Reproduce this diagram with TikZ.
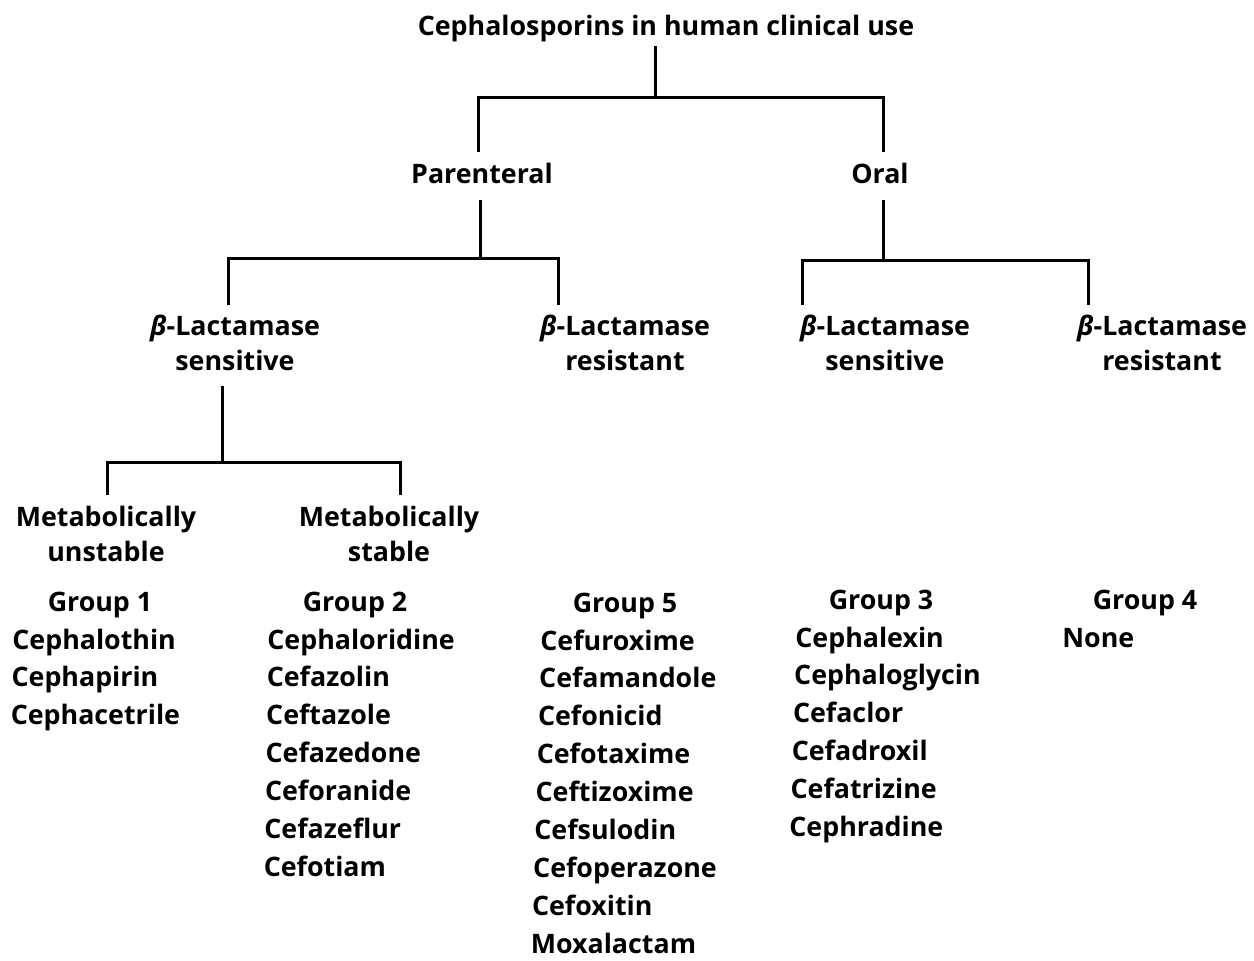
\documentclass[tikz,border=0pt]{standalone}
\usepackage{fontspec}
\setmainfont{Open Sans}
\begin{document}
\begin{tikzpicture}[x=0.5pt,y=-0.5pt,
  txt/.style={font=\fontsize{13.4}{17.8}\selectfont\bfseries, inner sep=0pt},
  lbl/.style={txt, anchor=base},
  pair/.style={txt, align=center, anchor=center},
  item/.style={txt, anchor=base west},
  tree/.style={line width=1.5pt, line cap=butt, line join=miter}]
\useasboundingbox (0,0) rectangle (1254,960);

% ---- labels of the classification tree
\node[lbl] (top) at (666,35) {Cephalosporins in human clinical use};
\node[lbl] (par) at (482,183) {Parenteral};
\node[lbl] (oral) at (880,183) {Oral};
\node[pair] (bls) at (235,343) {\textit{β}-Lactamase\\sensitive};
\node[pair] (blr) at (625,343) {\textit{β}-Lactamase\\resistant};
\node[pair] (obls) at (885,343) {\textit{β}-Lactamase\\sensitive};
\node[pair] (oblr) at (1162,343) {\textit{β}-Lactamase\\resistant};
\node[pair] (mu) at (106,534) {Metabolically\\unstable};
\node[pair] (ms) at (389,534) {Metabolically\\stable};

% ---- junction points of the brackets
\coordinate (j1) at (655,97);
\coordinate (j1l) at (478,97);
\coordinate (j1r) at (883,97);
\coordinate (j2) at (480,258);
\coordinate (j2l) at (228,258);
\coordinate (j2r) at (558,258);
\coordinate (j3) at (883,260);
\coordinate (j3l) at (802,260);
\coordinate (j3r) at (1088,260);
\coordinate (j4) at (222,462);
\coordinate (j4l) at (107,462);
\coordinate (j4r) at (400,462);

% ---- brackets
\draw[tree] ([yshift=-2pt]top.south -| j1) -- (j1);
\draw[tree] ([yshift=5pt]par.north -| j1l) |- (j1r) -- ([yshift=5pt]oral.north -| j1r);

\draw[tree] ([yshift=-8pt]par.south -| j2) -- (j2);
\draw[tree] ([yshift=4.5pt]bls.north -| j2l) |- (j2r) -- ([yshift=4.5pt]blr.north -| j2r);

\draw[tree] ([yshift=-8pt]oral.south -| j3) -- (j3);
\draw[tree] ([yshift=4.5pt]obls.north -| j3l) |- (j3r) -- ([yshift=4.5pt]oblr.north -| j3r);

\draw[tree] ([yshift=-7pt]bls.south -| j4) -- (j4);
\draw[tree] ([yshift=5pt]mu.north -| j4l) |- (j4r) -- ([yshift=5pt]ms.north -| j4r);

% ---- group headings
\node[lbl] (h1) at (100,611) {Group 1};
\node[lbl] (h2) at (355,611) {Group 2};
\node[lbl] (h5) at (625,612) {Group 5};
\node[lbl] (h3) at (881,609) {Group 3};
\node[lbl] (h4) at (1145,609) {Group 4};

% ---- members of each group
\foreach \t [count=\i] in {Cephalothin,Cephapirin,Cephacetrile}
  \node[item] (g1-\i) at ({12-0.8*(\i-1)},{649+37.9*(\i-1)}) {\t};
\foreach \t [count=\i] in {Cephaloridine,Cefazolin,Ceftazole,Cefazedone,Ceforanide,Cefazeflur,Cefotiam}
  \node[item] (g2-\i) at ({267-0.6*(\i-1)},{649+37.9*(\i-1)}) {\t};
\foreach \t [count=\i] in {Cefuroxime,Cefamandole,Cefonicid,Cefotaxime,Ceftizoxime,Cefsulodin,Cefoperazone,Cefoxitin,Moxalactam}
  \node[item] (g5-\i) at ({540-1.2*(\i-1)},{650+37.9*(\i-1)}) {\t};
\foreach \t [count=\i] in {Cephalexin,Cephaloglycin,Cefaclor,Cefadroxil,Cefatrizine,Cephradine}
  \node[item] (g3-\i) at ({795-1.2*(\i-1)},{647+37.9*(\i-1)}) {\t};
\node[item] (g4-1) at (1062,647) {None};
\end{tikzpicture}
\end{document}
